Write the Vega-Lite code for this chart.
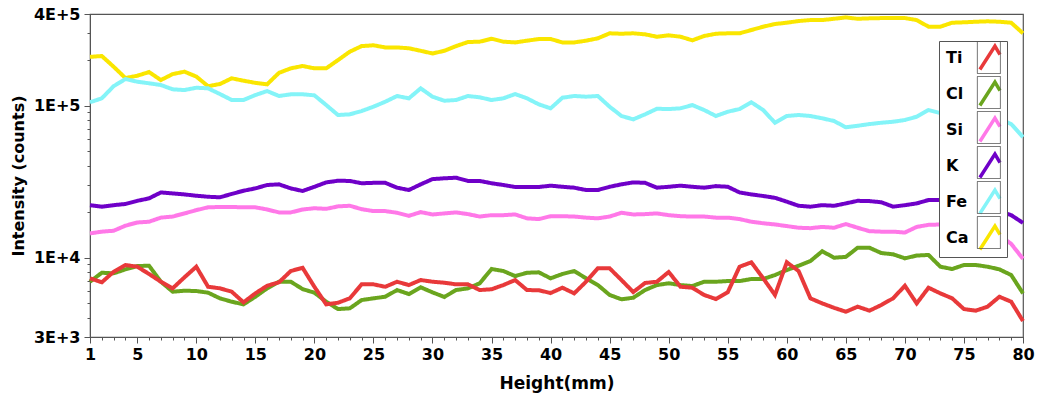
{
  "$schema": "https://vega.github.io/schema/vega-lite/v6.json",
  "width": 933,
  "height": 323,
  "autosize": {"type": "none"},
  "padding": {"left": 90, "top": 14, "right": 15, "bottom": 66},
  "background": "white",
  "config": {"view": {"stroke": "#555", "strokeWidth": 1.2}, "font": "DejaVu Sans"},
  "data": {"values": [
    {"h":1,"Ti":7300,"Cl":6930,"Si":14400,"K":22100,"Fe":105000,"Ca":209000},
    {"h":2,"Ti":6870,"Cl":7940,"Si":14800,"K":21600,"Fe":111500,"Ca":211600},
    {"h":3,"Ti":8060,"Cl":7870,"Si":15000,"K":22100,"Fe":134000,"Ca":180000},
    {"h":4,"Ti":8930,"Cl":8360,"Si":16200,"K":22500,"Fe":149400,"Ca":151600},
    {"h":5,"Ti":8700,"Cl":8790,"Si":17000,"K":23600,"Fe":143400,"Ca":157000},
    {"h":6,"Ti":7790,"Cl":8830,"Si":17200,"K":24500,"Fe":140000,"Ca":166000},
    {"h":7,"Ti":6930,"Cl":6930,"Si":18300,"K":26800,"Fe":136400,"Ca":147000},
    {"h":8,"Ti":6270,"Cl":5960,"Si":18600,"K":26400,"Fe":127800,"Ca":161000},
    {"h":9,"Ti":7410,"Cl":6050,"Si":19500,"K":26000,"Fe":126400,"Ca":167000},
    {"h":10,"Ti":8700,"Cl":6020,"Si":20500,"K":25500,"Fe":130900,"Ca":155000},
    {"h":11,"Ti":6420,"Cl":5870,"Si":21400,"K":25100,"Fe":129700,"Ca":134000},
    {"h":12,"Ti":6270,"Cl":5390,"Si":21500,"K":24900,"Fe":119000,"Ca":138500},
    {"h":13,"Ti":5960,"Cl":5120,"Si":21500,"K":26200,"Fe":108700,"Ca":151000},
    {"h":14,"Ti":5070,"Cl":4920,"Si":21400,"K":27500,"Fe":108700,"Ca":145600},
    {"h":15,"Ti":5810,"Cl":5520,"Si":21400,"K":28500,"Fe":117200,"Ca":141000},
    {"h":16,"Ti":6520,"Cl":6270,"Si":20700,"K":30000,"Fe":124500,"Ca":137900},
    {"h":17,"Ti":6870,"Cl":6930,"Si":19800,"K":30300,"Fe":115500,"Ca":164000},
    {"h":18,"Ti":8150,"Cl":6930,"Si":19800,"K":28500,"Fe":118500,"Ca":175600},
    {"h":19,"Ti":8560,"Cl":6200,"Si":20700,"K":27400,"Fe":118500,"Ca":182000},
    {"h":20,"Ti":6420,"Cl":5870,"Si":21100,"K":29200,"Fe":116700,"Ca":175600},
    {"h":21,"Ti":4920,"Cl":5120,"Si":20900,"K":31200,"Fe":100700,"Ca":175600},
    {"h":22,"Ti":5040,"Cl":4580,"Si":21700,"K":32000,"Fe":86600,"Ca":199000},
    {"h":23,"Ti":5390,"Cl":4630,"Si":21900,"K":31900,"Fe":87500,"Ca":226000},
    {"h":24,"Ti":6660,"Cl":5250,"Si":20800,"K":30800,"Fe":92000,"Ca":246000},
    {"h":25,"Ti":6660,"Cl":5390,"Si":20200,"K":31000,"Fe":98200,"Ca":249000},
    {"h":26,"Ti":6420,"Cl":5520,"Si":20200,"K":31000,"Fe":105900,"Ca":241000},
    {"h":27,"Ti":6930,"Cl":6110,"Si":19700,"K":28800,"Fe":115500,"Ca":241000},
    {"h":28,"Ti":6590,"Cl":5750,"Si":18800,"K":27800,"Fe":111500,"Ca":238000},
    {"h":29,"Ti":7110,"Cl":6370,"Si":19900,"K":30300,"Fe":129700,"Ca":229000},
    {"h":30,"Ti":6930,"Cl":5900,"Si":19200,"K":32800,"Fe":114300,"Ca":220000},
    {"h":31,"Ti":6830,"Cl":5500,"Si":19500,"K":33200,"Fe":107500,"Ca":229000},
    {"h":32,"Ti":6660,"Cl":6110,"Si":19800,"K":33500,"Fe":108700,"Ca":246000},
    {"h":33,"Ti":6660,"Cl":6270,"Si":19300,"K":31900,"Fe":115500,"Ca":261600},
    {"h":34,"Ti":6110,"Cl":6770,"Si":18600,"K":31900,"Fe":113200,"Ca":263000},
    {"h":35,"Ti":6180,"Cl":8400,"Si":19000,"K":30800,"Fe":108700,"Ca":275000},
    {"h":36,"Ti":6590,"Cl":8150,"Si":19000,"K":30000,"Fe":111500,"Ca":263000},
    {"h":37,"Ti":7110,"Cl":7550,"Si":19200,"K":29100,"Fe":119000,"Ca":260000},
    {"h":38,"Ti":6110,"Cl":7940,"Si":18100,"K":29100,"Fe":111500,"Ca":267000},
    {"h":39,"Ti":6090,"Cl":7990,"Si":17900,"K":29100,"Fe":101800,"Ca":273800},
    {"h":40,"Ti":5840,"Cl":7300,"Si":18700,"K":29700,"Fe":95800,"Ca":274000},
    {"h":41,"Ti":6330,"Cl":7790,"Si":18700,"K":29200,"Fe":112500,"Ca":260000},
    {"h":42,"Ti":5810,"Cl":8150,"Si":18600,"K":28800,"Fe":115500,"Ca":260000},
    {"h":43,"Ti":6930,"Cl":7300,"Si":18300,"K":27800,"Fe":114300,"Ca":267000},
    {"h":44,"Ti":8490,"Cl":6590,"Si":18100,"K":27800,"Fe":115500,"Ca":276700},
    {"h":45,"Ti":8490,"Cl":5670,"Si":18600,"K":29200,"Fe":98200,"Ca":298500},
    {"h":46,"Ti":7110,"Cl":5310,"Si":19700,"K":30300,"Fe":85300,"Ca":296700},
    {"h":47,"Ti":5930,"Cl":5440,"Si":19200,"K":31200,"Fe":81100,"Ca":298500},
    {"h":48,"Ti":6800,"Cl":6110,"Si":19300,"K":31000,"Fe":87500,"Ca":294000},
    {"h":49,"Ti":6930,"Cl":6590,"Si":19500,"K":28800,"Fe":95200,"Ca":283500},
    {"h":50,"Ti":8030,"Cl":6770,"Si":19000,"K":29200,"Fe":94800,"Ca":289600},
    {"h":51,"Ti":6420,"Cl":6590,"Si":18700,"K":29700,"Fe":95800,"Ca":283500},
    {"h":52,"Ti":6330,"Cl":6490,"Si":18600,"K":29200,"Fe":100700,"Ca":268500},
    {"h":53,"Ti":5670,"Cl":6930,"Si":18600,"K":28800,"Fe":93400,"Ca":286600},
    {"h":54,"Ti":5330,"Cl":6930,"Si":18300,"K":29500,"Fe":85300,"Ca":296700},
    {"h":55,"Ti":5910,"Cl":7000,"Si":18300,"K":29200,"Fe":91000,"Ca":298500},
    {"h":56,"Ti":8700,"Cl":7000,"Si":17900,"K":26800,"Fe":94800,"Ca":298500},
    {"h":57,"Ti":9300,"Cl":7220,"Si":17200,"K":26000,"Fe":105000,"Ca":313800},
    {"h":58,"Ti":7300,"Cl":7220,"Si":16800,"K":25400,"Fe":93400,"Ca":330000},
    {"h":59,"Ti":5670,"Cl":7670,"Si":16500,"K":24700,"Fe":77000,"Ca":343700},
    {"h":60,"Ti":9300,"Cl":8270,"Si":16100,"K":23300,"Fe":85300,"Ca":350500},
    {"h":61,"Ti":8150,"Cl":8830,"Si":15700,"K":21900,"Fe":86600,"Ca":359600},
    {"h":62,"Ti":5390,"Cl":9480,"Si":15600,"K":21600,"Fe":85300,"Ca":365000},
    {"h":63,"Ti":4990,"Cl":11000,"Si":15900,"K":22100,"Fe":82400,"Ca":365000},
    {"h":64,"Ti":4670,"Cl":9970,"Si":15700,"K":21900,"Fe":79100,"Ca":372000},
    {"h":65,"Ti":4400,"Cl":10100,"Si":16600,"K":22700,"Fe":71900,"Ca":380000},
    {"h":66,"Ti":4750,"Cl":11600,"Si":15700,"K":23600,"Fe":73600,"Ca":372000},
    {"h":67,"Ti":4470,"Cl":11600,"Si":14900,"K":23500,"Fe":75500,"Ca":374600},
    {"h":68,"Ti":4870,"Cl":10700,"Si":14800,"K":23100,"Fe":77000,"Ca":376000},
    {"h":69,"Ti":5390,"Cl":10500,"Si":14800,"K":21600,"Fe":78200,"Ca":376000},
    {"h":70,"Ti":6520,"Cl":9880,"Si":14600,"K":22100,"Fe":80300,"Ca":376000},
    {"h":71,"Ti":4990,"Cl":10300,"Si":15900,"K":22700,"Fe":84400,"Ca":365000},
    {"h":72,"Ti":6330,"Cl":10400,"Si":16400,"K":23900,"Fe":93400,"Ca":330000},
    {"h":73,"Ti":5810,"Cl":8700,"Si":16500,"K":23900,"Fe":89200,"Ca":330000},
    {"h":74,"Ti":5390,"Cl":8400,"Si":16600,"K":23900,"Fe":87900,"Ca":350500},
    {"h":75,"Ti":4580,"Cl":8930,"Si":16600,"K":23500,"Fe":86600,"Ca":352600},
    {"h":76,"Ti":4470,"Cl":8930,"Si":16600,"K":23200,"Fe":85300,"Ca":355800},
    {"h":77,"Ti":4750,"Cl":8700,"Si":15600,"K":22500,"Fe":84000,"Ca":358000},
    {"h":78,"Ti":5520,"Cl":8360,"Si":14000,"K":20200,"Fe":81500,"Ca":355800},
    {"h":79,"Ti":5120,"Cl":7670,"Si":12300,"K":19000,"Fe":75500,"Ca":350500},
    {"h":80,"Ti":3820,"Cl":5810,"Si":9800,"K":16900,"Fe":62000,"Ca":298500}
  ]},
  "transform": [
    {"fold": ["Ca", "Fe", "K", "Si", "Cl", "Ti"], "as": ["el", "v"]},
    {"calculate": "datum.el", "as": "el2"}
  ],
  "layer": [
    {
      "mark": {"type": "line", "strokeWidth": 4},
      "encoding": {
        "x": {
          "field": "h", "type": "quantitative",
          "scale": {"domain": [1, 80], "nice": false, "zero": false},
          "axis": {
            "values": [1, 5, 10, 15, 20, 25, 30, 35, 40, 45, 50, 55, 60, 65, 70, 75, 80],
            "title": "Height(mm)", "grid": false,
            "domainColor": "#555", "tickColor": "#555", "tickSize": 6,
            "labelFont": "DejaVu Sans", "labelFontWeight": "bold", "labelFontSize": 16, "labelColor": "black",
            "labelPadding": 3, "labelFlush": false, "labelOverlap": false,
            "titleFont": "DejaVu Sans", "titleFontWeight": "bold", "titleFontSize": 17, "titleColor": "black",
            "titlePadding": 13
          }
        },
        "y": {
          "field": "v", "type": "quantitative",
          "scale": {"type": "log", "domain": [3000, 400000], "nice": false},
          "axis": {
            "values": [3000, 10000, 100000, 400000],
            "labelExpr": "datum.value == 3000 ? '3E+3' : datum.value == 10000 ? '1E+4' : datum.value == 100000 ? '1E+5' : '4E+5'",
            "title": "Intensity (counts)", "grid": false,
            "domainColor": "#555", "tickColor": "#555", "tickSize": 6,
            "labelFont": "DejaVu Sans", "labelFontWeight": "bold", "labelFontSize": 16, "labelColor": "black",
            "labelPadding": 4, "labelFlush": false, "labelOverlap": false, "labelBound": false,
            "titleFont": "DejaVu Sans", "titleFontWeight": "bold", "titleFontSize": 16, "titleColor": "black",
            "titlePadding": 7
          }
        },
        "color": {
          "field": "el", "type": "nominal",
          "scale": {"domain": ["Ti", "Cl", "Si", "K", "Fe", "Ca"], "range": ["#e8393a", "#6aa51e", "#ff78e8", "#6f00c8", "#84f4f8", "#fae600"]},
          "legend": {
            "orient": "none", "legendX": 849, "legendY": 27, "title": null,
            "symbolType": "M-0.61,0.81L0.41,-0.77L0.75,-0.2",
            "symbolSize": 870, "symbolStrokeWidth": 3.5, "symbolFillColor": "transparent",
            "labelFont": "DejaVu Sans", "labelFontSize": 16, "labelFontWeight": "bold", "labelColor": "black",
            "labelOffset": -59.4, "symbolOffset": 33.4, "rowPadding": -2, "padding": 0,
            "fillColor": "white", "strokeColor": "#555",
            "encode": {
              "symbols": {"update": {"strokeWidth": {"value": 3.5}}}
            }
          }
        },
        "strokeDash": {
          "field": "el2", "type": "nominal",
          "scale": {"range": [[1, 0], [1, 0], [1, 0], [1, 0], [1, 0], [1, 0]]},
          "legend": {
            "orient": "none", "legendX": 849, "legendY": 27, "title": null,
            "symbolType": "M-0.72,-1H0.72V1H-0.72Z",
            "symbolSize": 1024, "symbolStrokeWidth": 1, "symbolStrokeColor": "#555", "symbolFillColor": "transparent",
            "labelFont": "DejaVu Sans", "labelFontSize": 16, "labelFontWeight": "bold", "labelExpr": "''",
            "labelOffset": -59.4, "symbolOffset": 33.4, "rowPadding": -2, "padding": 0,
            "encode": {
              "symbols": {"update": {"strokeWidth": {"value": 1}, "stroke": {"value": "#555"}, "fill": {"value": "transparent"}}}
            }
          }
        }
      }
    },
    {
      "mark": {"type": "point", "opacity": 0},
      "encoding": {
        "x": {
          "field": "h", "type": "quantitative",
          "scale": {"domain": [1, 80], "nice": false, "zero": false},
          "axis": {
            "orient": "bottom",
            "values": [1,2,3,4,5,6,7,8,9,10,11,12,13,14,15,16,17,18,19,20,21,22,23,24,25,26,27,28,29,30,31,32,33,34,35,36,37,38,39,40,41,42,43,44,45,46,47,48,49,50,51,52,53,54,55,56,57,58,59,60,61,62,63,64,65,66,67,68,69,70,71,72,73,74,75,76,77,78,79,80],
            "labels": false, "domain": false, "grid": false, "title": null,
            "tickColor": "#555", "tickSize": 3
          }
        },
        "y": {
          "field": "v", "type": "quantitative",
          "scale": {"type": "log", "domain": [3000, 400000], "nice": false},
          "axis": {
            "orient": "left",
            "values": [4000, 5000, 6000, 7000, 8000, 9000, 20000, 30000, 40000, 50000, 60000, 70000, 80000, 90000, 200000, 300000],
            "labels": false, "domain": false, "grid": false, "title": null,
            "tickColor": "#555", "tickSize": 3
          }
        }
      }
    }
  ],
  "resolve": {"axis": {"x": "independent", "y": "independent"}}
}
